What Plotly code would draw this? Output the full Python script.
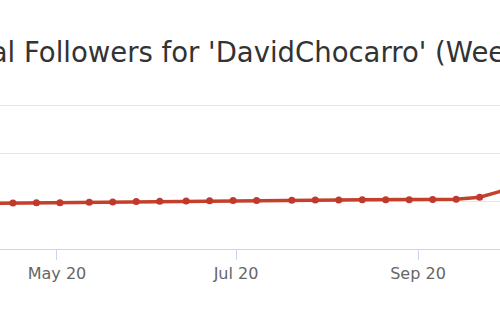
import plotly.graph_objects as go

# Weekly total followers
dates = ["2020-04-08", "2020-04-16", "2020-04-24", "2020-05-02", "2020-05-12",
         "2020-05-20", "2020-05-28", "2020-06-05", "2020-06-14", "2020-06-22",
         "2020-06-30", "2020-07-08", "2020-07-20", "2020-07-28", "2020-08-05",
         "2020-08-13", "2020-08-21", "2020-08-29", "2020-09-06", "2020-09-14",
         "2020-09-22", "2020-09-30"]
followers = [476000, 479000, 481000, 483000, 486000,
             490000, 494000, 497000, 500000, 502000,
             504000, 506000, 508000, 510000, 511000,
             512000, 513000, 514000, 516000, 519000,
             539000, 608000]

tick_vals = ["2020-05-01", "2020-07-01", "2020-09-01"]
tick_text = ["May 20", "Jul 20", "Sep 20"]

title_text = "Total Followers for 'DavidChocarro' (Weekly)"

fig = go.Figure()
fig.add_trace(go.Scatter(
    x=dates, y=followers, mode="lines+markers",
    line=dict(color="#c4402a", width=3.5),
    marker=dict(color="#c0392b", size=7),
    hoverinfo="skip", showlegend=False,
))

fig.update_layout(
    width=500, height=310,
    margin=dict(l=0, r=0, t=102, b=61),
    paper_bgcolor="white", plot_bgcolor="white",
    font=dict(family="DejaVu Sans", color="#666666"),
    xaxis=dict(
        range=["2020-04-11 14:00", "2020-09-28 22:30"],
        tickvals=tick_vals, ticktext=tick_text,
        ticks="outside", ticklen=10, tickcolor="#ccd6eb", tickwidth=1,
        showline=True, linecolor="#ccd6eb", linewidth=1,
        showgrid=False, zeroline=False,
        tickfont=dict(size=16, color="#666666"),
    ),
    yaxis=dict(
        range=[0, 1531250], dtick=500000,
        showticklabels=False, showgrid=True, gridcolor="#e6e6e6",
        gridwidth=1, zeroline=False, showline=False,
    ),
    annotations=[dict(
        text=title_text, xref="paper", yref="paper",
        x=-0.104, y=1.34, xanchor="left", yanchor="middle",
        showarrow=False,
        font=dict(family="DejaVu Sans", size=27.5, color="#333333"),
    )],
)

fig.write_html("out.html")
